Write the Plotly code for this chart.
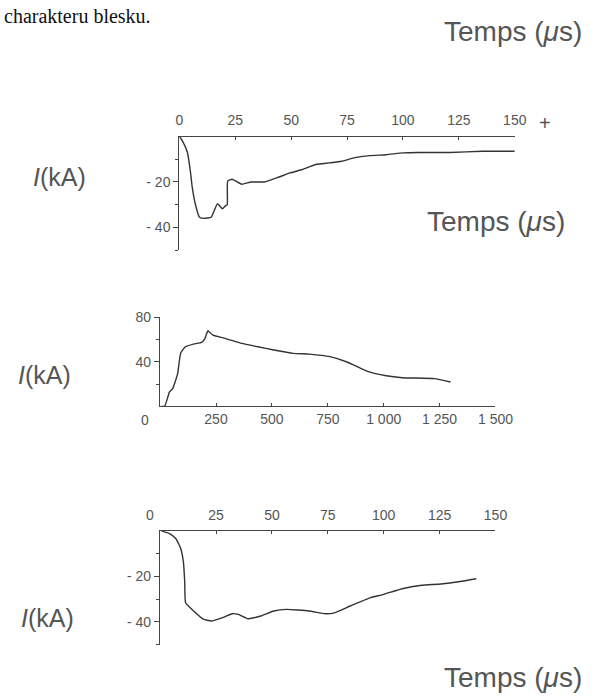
import plotly.graph_objects as go

# ---------- data ----------
# Panel 1: negative first stroke, time in µs, current in kA
top_t = [0, 1.4, 3.6, 5, 5.7, 7.2, 9, 11, 14.2, 17, 19.3, 20.7, 21.4, 21.6, 23.6, 27.9,
         32, 38, 44, 49.5, 55, 61, 67, 72.5, 78, 85, 92.5, 100, 107, 121, 135.6, 150]
top_i = [0, -2, -7, -16, -22, -30, -35.5, -36, -35.5, -29.6, -31.8, -30.4, -30, -19.6, -18.8, -21,
         -20, -20, -18, -16, -14.5, -12.3, -11.6, -10.9, -9.4, -8.4, -8, -7.2, -7, -7, -6.5, -6.5]

# Panel 2: positive stroke
mid_t = [5, 20, 42, 56, 78, 92, 113, 149, 185, 200, 214, 236, 293, 365, 437, 509,
         595, 667, 760, 839, 925, 1011, 1083, 1227, 1299]
mid_i = [0, 0, 13, 16, 29, 48, 53.6, 56, 57.5, 61, 68, 64, 61, 56.6, 53.6, 50.7,
         47.7, 47, 44.7, 39.7, 31.7, 27.5, 25.8, 25, 21.9]

# Panel 3: negative stroke
bot_t = [0.6, 4.2, 7, 9.2, 10.4, 11, 11.4, 15, 19.3, 22.9, 27.9, 32.2, 35, 39.4, 45,
         50.8, 56.6, 66.6, 73.9, 78, 85, 93.9, 99.6, 108.3, 117, 125.6, 134.2, 141.4]
bot_i = [0, -1.2, -3.3, -7.7, -13.5, -22.2, -31.6, -35.2, -38.8, -39.6, -38.1, -36.4, -36.7, -38.6, -37.4,
         -35.2, -34.5, -35.2, -36.4, -36, -33, -29.4, -28, -25.4, -23.9, -23.3, -22.2, -21]

# tick labels
us_ticks = [0, 25, 50, 75, 100, 125, 150]
us_labels = ["0", "25", "50", "75", "100", "125", "150"]
bot_ticks = [25, 50, 75, 100, 125, 150]
bot_labels = ["25", "50", "75", "100", "125", "150"]
mid_ticks = [250, 500, 750, 1000, 1250, 1500]
mid_labels = ["250", "500", "750", "1 000", "1 250", "1 500"]
neg_ticks = [-20, -40]
neg_labels = ["- 20", "- 40"]
pos_ticks = [40, 80]
pos_labels = ["40", "80"]

W, H = 606, 700
TXT = "#555555"
LINE = "#333333"
FONT = "Liberation Sans"

def px(x):
    return x / W

def py(y):
    return 1 - y / H

fig = go.Figure()
line_style = dict(color=LINE, width=1.4, shape="spline", smoothing=0.4)
fig.add_trace(go.Scatter(x=top_t, y=top_i, mode="lines", line=line_style,
                         xaxis="x", yaxis="y", hoverinfo="skip"))
fig.add_trace(go.Scatter(x=mid_t, y=mid_i, mode="lines", line=line_style,
                         xaxis="x2", yaxis="y2", hoverinfo="skip"))
fig.add_trace(go.Scatter(x=bot_t, y=bot_i, mode="lines", line=line_style,
                         xaxis="x3", yaxis="y3", hoverinfo="skip"))

axis_common = dict(showline=True, linecolor="#444444", linewidth=1.3, showgrid=False,
                   zeroline=False, tickcolor="#444444", tickfont=dict(family=FONT, size=14, color=TXT),
                   fixedrange=True)

fig.update_layout(
    width=W, height=H,
    margin=dict(l=0, r=0, t=0, b=0),
    paper_bgcolor="white", plot_bgcolor="white",
    showlegend=False,
    xaxis=dict(axis_common, domain=[px(182), px(530)], range=[0, 150], anchor="y", side="top",
               tickvals=us_ticks, ticktext=us_labels, ticks="inside", ticklen=3,
               ticklabelstandoff=5),
    yaxis=dict(axis_common, domain=[py(245), py(130)], range=[-50, 0], anchor="x",
               tickvals=neg_ticks, ticktext=neg_labels, ticks="outside", ticklen=5,
               minor=dict(tickvals=[-10, -30, -50], ticks="outside", ticklen=3, tickcolor="#444444")),
    xaxis2=dict(axis_common, domain=[px(162), px(510)], range=[0, 1500], anchor="y2", side="bottom",
                tickvals=mid_ticks, ticktext=mid_labels, ticks="inside", ticklen=3),
    yaxis2=dict(axis_common, domain=[py(403), py(313)], range=[0, 80], anchor="x2",
                tickvals=pos_ticks, ticktext=pos_labels, ticks="outside", ticklen=5,
                minor=dict(tickvals=[20, 60], ticks="outside", ticklen=3, tickcolor="#444444")),
    xaxis3=dict(axis_common, domain=[px(162), px(510)], range=[0, 150], anchor="y3", side="top",
                tickvals=bot_ticks, ticktext=bot_labels, ticks="inside", ticklen=3,
                ticklabelstandoff=4),
    yaxis3=dict(axis_common, domain=[py(644), py(529)], range=[-50, 0], anchor="x3",
                tickvals=neg_ticks, ticktext=neg_labels, ticks="outside", ticklen=5,
                minor=dict(tickvals=[-10, -30, -50], ticks="outside", ticklen=3, tickcolor="#444444")),
)

def note(text, x, y, size, xanchor="center", yanchor="middle", family=FONT, color=TXT):
    fig.add_annotation(text=text, x=px(x), y=py(y), xref="paper", yref="paper",
                       xanchor=xanchor, yanchor=yanchor, showarrow=False,
                       font=dict(family=family, size=size, color=color))

temps = "Temps (<i>μ</i>s)"
note(temps, 528, 24, 28)
note(temps, 511, 216, 28)
note(temps, 528, 677, 28)
ika = "<i>I</i>(kA)"
note(ika, 58, 171, 25)
note(ika, 42, 371, 25)
note(ika, 45, 617, 25)
note("0", 146, 417, 14)
note("0", 152, 513, 14)
note("+", 561, 116, 20)
note("charakteru blesku.", -2, 8, 20, xanchor="left", yanchor="middle",
     family="Liberation Serif", color="#111111")

fig.write_html("out.html", config={"displayModeBar": False},
               post_script="document.body.style.margin='0';document.body.style.overflow='hidden';")
